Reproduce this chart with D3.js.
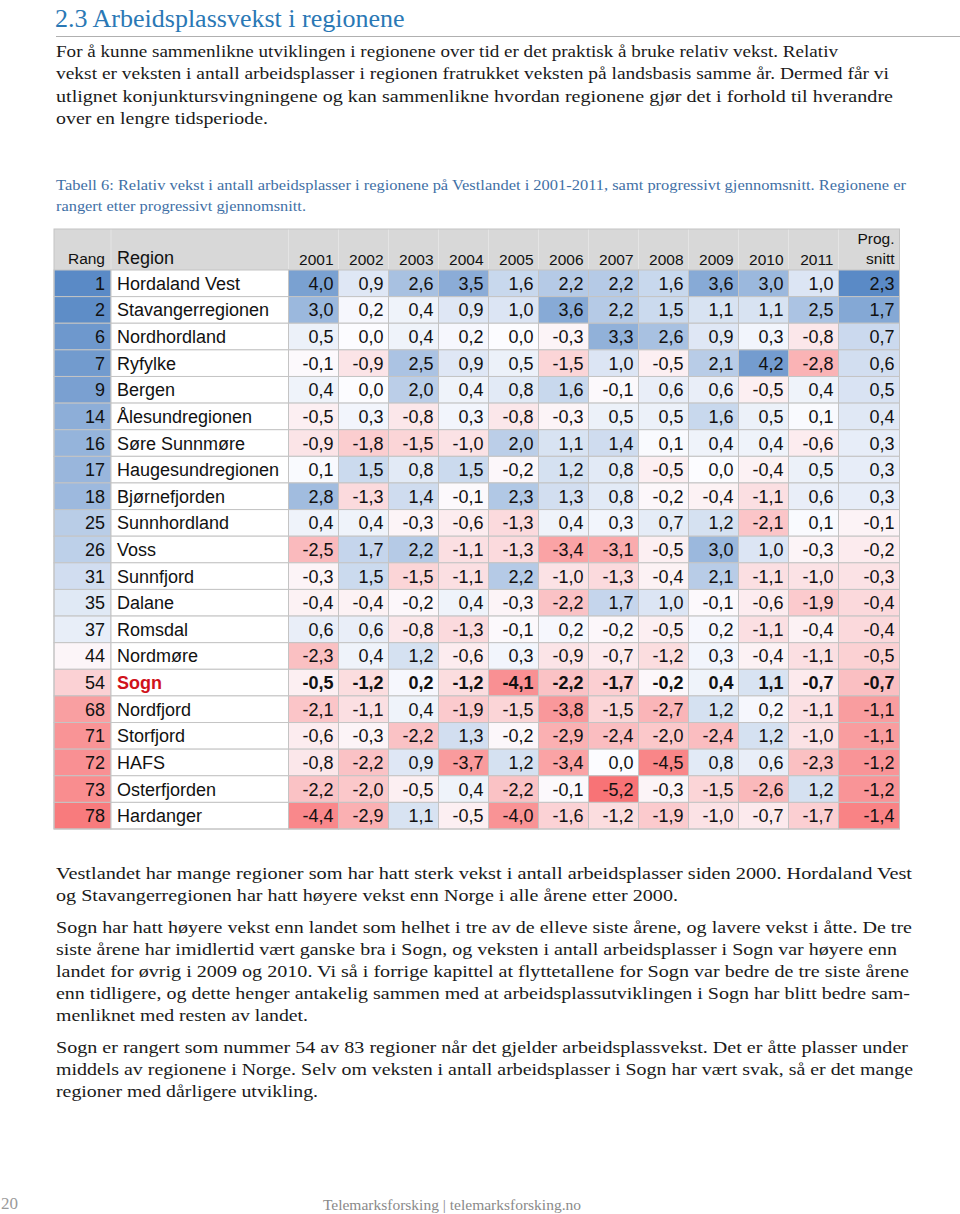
<!DOCTYPE html>
<html><head><meta charset="utf-8">
<script src="https://cdn.jsdelivr.net/npm/d3@7"></script>
<style>html,body{margin:0;padding:0;background:#fff;}svg{display:block;}</style>
</head><body>
<script>
// ---------- DATA ----------
const ranks = [1,2,6,7,9,14,16,17,18,25,26,31,35,37,44,54,68,71,72,73,78];
const regions = ["Hordaland Vest","Stavangerregionen","Nordhordland","Ryfylke","Bergen","Ålesundregionen","Søre Sunnmøre","Haugesundregionen","Bjørnefjorden","Sunnhordland","Voss","Sunnfjord","Dalane","Romsdal","Nordmøre","Sogn","Nordfjord","Storfjord","HAFS","Osterfjorden","Hardanger"];
const years = ["2001","2002","2003","2004","2005","2006","2007","2008","2009","2010","2011"];
const y2001 = [4.0,3.0,0.5,-0.1,0.4,-0.5,-0.9,0.1,2.8,0.4,-2.5,-0.3,-0.4,0.6,-2.3,-0.5,-2.1,-0.6,-0.8,-2.2,-4.4];
const y2002 = [0.9,0.2,0.0,-0.9,0.0,0.3,-1.8,1.5,-1.3,0.4,1.7,1.5,-0.4,0.6,0.4,-1.2,-1.1,-0.3,-2.2,-2.0,-2.9];
const y2003 = [2.6,0.4,0.4,2.5,2.0,-0.8,-1.5,0.8,1.4,-0.3,2.2,-1.5,-0.2,-0.8,1.2,0.2,0.4,-2.2,0.9,-0.5,1.1];
const y2004 = [3.5,0.9,0.2,0.9,0.4,0.3,-1.0,1.5,-0.1,-0.6,-1.1,-1.1,0.4,-1.3,-0.6,-1.2,-1.9,1.3,-3.7,0.4,-0.5];
const y2005 = [1.6,1.0,0.0,0.5,0.8,-0.8,2.0,-0.2,2.3,-1.3,-1.3,2.2,-0.3,-0.1,0.3,-4.1,-1.5,-0.2,1.2,-2.2,-4.0];
const y2006 = [2.2,3.6,-0.3,-1.5,1.6,-0.3,1.1,1.2,1.3,0.4,-3.4,-1.0,-2.2,0.2,-0.9,-2.2,-3.8,-2.9,-3.4,-0.1,-1.6];
const y2007 = [2.2,2.2,3.3,1.0,-0.1,0.5,1.4,0.8,0.8,0.3,-3.1,-1.3,1.7,-0.2,-0.7,-1.7,-1.5,-2.4,0.0,-5.2,-1.2];
const y2008 = [1.6,1.5,2.6,-0.5,0.6,0.5,0.1,-0.5,-0.2,0.7,-0.5,-0.4,1.0,-0.5,-1.2,-0.2,-2.7,-2.0,-4.5,-0.3,-1.9];
const y2009 = [3.6,1.1,0.9,2.1,0.6,1.6,0.4,0.0,-0.4,1.2,3.0,2.1,-0.1,0.2,0.3,0.4,1.2,-2.4,0.8,-1.5,-1.0];
const y2010 = [3.0,1.1,0.3,4.2,-0.5,0.5,0.4,-0.4,-1.1,-2.1,1.0,-1.1,-0.6,-1.1,-0.4,1.1,0.2,1.2,0.6,-2.6,-0.7];
const y2011 = [1.0,2.5,-0.8,-2.8,0.4,0.1,-0.6,0.5,0.6,0.1,-0.3,-1.0,-1.9,-0.4,-1.1,-0.7,-1.1,-1.0,-2.3,1.2,-1.7];
const progSnitt = [2.3,1.7,0.7,0.6,0.5,0.4,0.3,0.3,0.3,-0.1,-0.2,-0.3,-0.4,-0.4,-0.5,-0.7,-1.1,-1.1,-1.2,-1.2,-1.4];
const highlight = "Sogn";

const title = "2.3 Arbeidsplassvekst i regionene";
const intro = [
 "For å kunne sammenlikne utviklingen i regionene over tid er det praktisk å bruke relativ vekst. Relativ",
 "vekst er veksten i antall arbeidsplasser i regionen fratrukket veksten på landsbasis samme år. Dermed får vi",
 "utlignet konjunktursvingningene og kan sammenlikne hvordan regionene gjør det i forhold til hverandre",
 "over en lengre tidsperiode."];
const caption = [
 "Tabell 6: Relativ vekst i antall arbeidsplasser i regionene på Vestlandet i 2001-2011, samt progressivt gjennomsnitt. Regionene er",
 "rangert etter progressivt gjennomsnitt."];
const para2 = [
 "Vestlandet har mange regioner som har hatt sterk vekst i antall arbeidsplasser siden 2000. Hordaland Vest",
 "og Stavangerregionen har hatt høyere vekst enn Norge i alle årene etter 2000."];
const para3 = [
 "Sogn har hatt høyere vekst enn landet som helhet i tre av de elleve siste årene, og lavere vekst i åtte. De tre",
 "siste årene har imidlertid vært ganske bra i Sogn, og veksten i antall arbeidsplasser i Sogn var høyere enn",
 "landet for øvrig i 2009 og 2010. Vi så i forrige kapittel at flyttetallene for Sogn var bedre de tre siste årene",
 "enn tidligere, og dette henger antakelig sammen med at arbeidsplassutviklingen i Sogn har blitt bedre sam-",
 "menliknet med resten av landet."];
const para4 = [
 "Sogn er rangert som nummer 54 av 83 regioner når det gjelder arbeidsplassvekst. Det er åtte plasser under",
 "middels av regionene i Norge. Selv om veksten i antall arbeidsplasser i Sogn har vært svak, så er det mange",
 "regioner med dårligere utvikling."];
const pageNo = "20";
const footer = "Telemarksforsking | telemarksforsking.no";

// ---------- LAYOUT ----------
const W = 960, H = 1214;
const serif = "'Liberation Serif','Times New Roman',serif";
const sans = "'Liberation Sans',Arial,Helvetica,sans-serif";
const yearCols = [y2001,y2002,y2003,y2004,y2005,y2006,y2007,y2008,y2009,y2010,y2011];

const svg = d3.select("body").append("svg").attr("width", W).attr("height", H);
svg.append("rect").attr("width", W).attr("height", H).attr("fill", "#fff");

function block(lines, x, y0, lh, size, color, rights, family) {
  lines.forEach((t, i) => {
    const el = svg.append("text").attr("x", x).attr("y", y0 + i * lh)
      .attr("font-family", family || serif).attr("font-size", size).attr("fill", color).text(t);
    if (rights && rights[i]) {
      const target = rights[i] - x;
      const nat = el.node().getComputedTextLength();
      if (Math.abs(nat - target) > 2) el.attr("textLength", target).attr("lengthAdjust", "spacingAndGlyphs");
    }
  });
}

svg.append("text").attr("x", 55).attr("y", 27).attr("font-family", serif).attr("font-size", 26)
  .attr("fill", "#2a78b5").text(title);
svg.append("line").attr("x1", 56).attr("x2", 960).attr("y1", 36.5).attr("y2", 36.5)
  .attr("stroke", "#b0b0b0").attr("stroke-width", 1.2);

block(intro, 56, 57, 22.4, 17.5, "#1a1a1a", [838, 889, 893, 268]);
block(caption, 56, 190, 20.5, 15, "#3f70a6", [906, 306]);
block(para2, 56, 879, 22, 17.5, "#1a1a1a", [912, 678]);
block(para3, 56, 933, 22, 17.5, "#1a1a1a", [912, 897, 909, 910, 308]);
block(para4, 56, 1053, 22, 17.5, "#1a1a1a", [908, 913, 318]);

svg.append("text").attr("x", 1).attr("y", 1209).attr("font-family", serif).attr("font-size", 17)
  .attr("fill", "#9a9a9a").text(pageNo);
svg.append("text").attr("x", 452).attr("y", 1210).attr("text-anchor", "middle").attr("font-family", serif)
  .attr("font-size", 15.5).attr("fill", "#8a8a8a").text(footer);

// ---------- TABLE ----------
const tTop = 229, hBottom = 270, tBottom = 829;
const xRank = 54, xRegion = 111, xYears = 288.5, xProg = 838.5, xRight = 899.5;
const yRow = d3.scaleBand().domain(regions).range([hBottom, tBottom]);
const xYear = d3.scaleBand().domain(years).range([xYears, xProg]);

const blue = "#5A8AC6", white = "#FCFCFF", red = "#F8696B";
const cYear = d3.scaleLinear().domain([-5.6, 0, 5.0]).range([red, white, blue]).clamp(true);
const cRank = d3.scaleLinear().domain([83, 42, 1]).range([red, white, blue]).clamp(true);
const cProg = d3.scaleLinear().domain([-1.7, 0, 2.3]).range([red, white, blue]).clamp(true);

const grid = "#c4c4c4";
const fmt = v => d3.format(".1f")(v).replace("−", "-").replace(".", ",");
const fs = 18;

const g = svg.append("g");
g.append("rect").attr("x", xRank).attr("y", tTop).attr("width", xRight - xRank).attr("height", hBottom - tTop)
  .attr("fill", "#d8d8d8");
const hSeps = [xRegion, ...years.map(y => xYear(y)), xProg];
hSeps.forEach(x => g.append("line").attr("x1", x).attr("x2", x).attr("y1", tTop).attr("y2", hBottom)
  .attr("stroke", "#e4e4e4").attr("stroke-width", 1));
g.append("text").attr("x", xRegion - 6).attr("y", 264).attr("text-anchor", "end").attr("font-family", sans)
  .attr("font-size", 15.5).attr("fill", "#111").text("Rang");
g.append("text").attr("x", xRegion + 6).attr("y", 264).attr("font-family", sans)
  .attr("font-size", 18).attr("fill", "#111").text("Region");
years.forEach(y => g.append("text").attr("x", xYear(y) + xYear.bandwidth() - 5).attr("y", 265)
  .attr("text-anchor", "end").attr("font-family", sans).attr("font-size", 15.5).attr("fill", "#111").text(y));
g.append("text").attr("x", xRight - 5).attr("y", 244).attr("text-anchor", "end").attr("font-family", sans)
  .attr("font-size", 15.5).attr("fill", "#111").text("Prog.");
g.append("text").attr("x", xRight - 5).attr("y", 264).attr("text-anchor", "end").attr("font-family", sans)
  .attr("font-size", 15.5).attr("fill", "#111").text("snitt");

regions.forEach((r, i) => {
  const y = yRow(r), h = yRow.bandwidth();
  const isH = r === highlight;
  const base = y + h / 2 + 6.5;
  const row = g.append("g");
  row.append("rect").attr("x", xRank).attr("y", y).attr("width", xRegion - xRank).attr("height", h)
    .attr("fill", cRank(ranks[i])).attr("stroke", grid).attr("stroke-width", 1);
  row.append("text").attr("x", xRegion - 6).attr("y", base).attr("text-anchor", "end")
    .attr("font-family", sans).attr("font-size", fs).attr("fill", "#111").text(ranks[i]);
  row.append("rect").attr("x", xRegion).attr("y", y).attr("width", xYears - xRegion).attr("height", h)
    .attr("fill", "#fff").attr("stroke", grid).attr("stroke-width", 1);
  row.append("text").attr("x", xRegion + 6).attr("y", base).attr("font-family", sans).attr("font-size", fs)
    .attr("font-weight", isH ? "bold" : "normal").attr("fill", isH ? "#d0121b" : "#111").text(r);
  years.forEach((yr, j) => {
    const v = yearCols[j][i];
    row.append("rect").attr("x", xYear(yr)).attr("y", y).attr("width", xYear.bandwidth()).attr("height", h)
      .attr("fill", cYear(v)).attr("stroke", grid).attr("stroke-width", 1);
    row.append("text").attr("x", xYear(yr) + xYear.bandwidth() - 5).attr("y", base).attr("text-anchor", "end")
      .attr("font-family", sans).attr("font-size", fs).attr("font-weight", isH ? "bold" : "normal")
      .attr("fill", "#111").text(fmt(v));
  });
  row.append("rect").attr("x", xProg).attr("y", y).attr("width", xRight - xProg).attr("height", h)
    .attr("fill", cProg(progSnitt[i])).attr("stroke", grid).attr("stroke-width", 1);
  row.append("text").attr("x", xRight - 5).attr("y", base).attr("text-anchor", "end")
    .attr("font-family", sans).attr("font-size", fs).attr("font-weight", isH ? "bold" : "normal")
    .attr("fill", "#111").text(fmt(progSnitt[i]));
});
g.append("rect").attr("x", xRank).attr("y", tTop).attr("width", xRight - xRank).attr("height", tBottom - tTop)
  .attr("fill", "none").attr("stroke", grid).attr("stroke-width", 1);
</script>
</body></html>
